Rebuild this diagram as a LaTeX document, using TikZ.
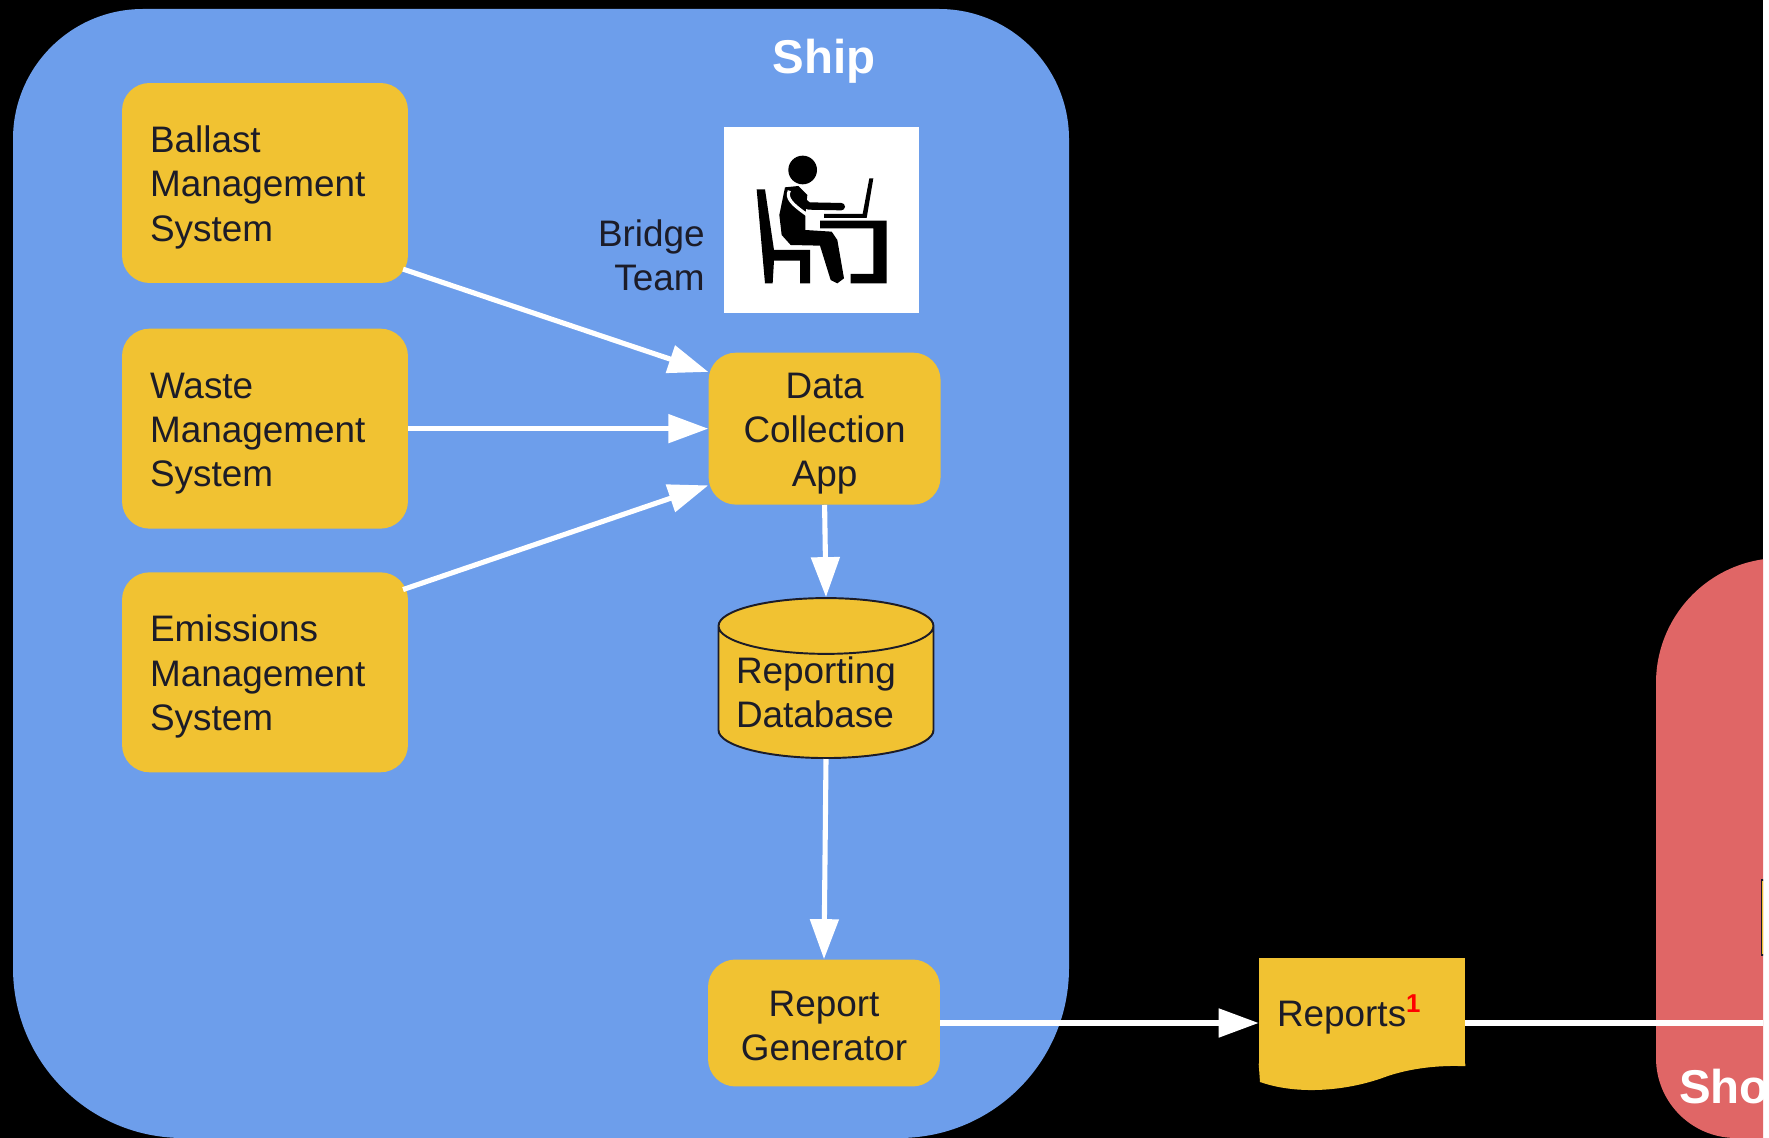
\documentclass[tikz,border=0pt]{standalone}
\usepackage{fontspec}
\setmainfont{Liberation Sans}
\usepackage{tikz}
\usetikzlibrary{shapes.geometric, positioning, arrows.meta}
\definecolor{shipblue}{HTML}{6D9EEB}
\definecolor{shorered}{HTML}{E06666}
\definecolor{boxyellow}{HTML}{F1C232}
\definecolor{inkdark}{HTML}{1C1C28}

\begin{document}
\begin{tikzpicture}[
  x=0.02cm, y=-0.02cm,
  node distance=0.9cm and 6cm,
  font=\fontsize{21}{25.2}\selectfont,
  mydrop/.style={execute at begin node={\rule{0pt}{#1}}},
  mynode/.style={fill=boxyellow,text=inkdark,rounded corners=0.55cm,align=center,inner sep=0pt},
  mysystem/.style={mynode,mydrop=20pt,text width=4.6cm,inner xsep=0.56cm,minimum height=4cm,align=left},
  myapp/.style={mynode,text width=4.64cm},
  myarrow/.style={draw=white,line width=2.9pt,-{Triangle[length=0.8cm,width=0.56cm]}},
  myhead/.style={text=white,font=\fontsize{27}{32}\selectfont\bfseries}
]

\fill[white] (0,0) rectangle (1769,1138);
\useasboundingbox (0,0) rectangle (1769,1138);
\clip (0,0) rectangle (1763,1138);
\fill[black] (0,0) rectangle (1763,1138);

\fill[shipblue] (13,600) [rounded corners=2.6cm] -- (13,9) -- (1069,9) [rounded corners=3.4cm] -- (1069,1138) -- (13,1138) -- cycle;
\fill[shorered] (1900,558) [rounded corners=2.5cm] -- (1656,558) [rounded corners=1.6cm] -- (1656,1138) -- (1900,1138) -- cycle;
\draw[inkdark,fill=boxyellow,line width=0.8pt] (1761.5,880) rectangle (1790,955);

\node[myhead] (shiplabel) at (824,61) {Ship};
\node[myhead,anchor=west] (shorelabel) at (1673,1087) {Sho};

\node[mysystem] (ballast) at (265,183) {Ballast\\Management\\System};
\node[mysystem,below=of ballast] (waste) {Waste\\Management\\System};
\node[mysystem,below=0.86cm of waste] (emissions) {Emissions\\Management\\System};

\node[myapp,mydrop=20pt,minimum height=3.04cm,right=of waste] (app) {Data\\Collection\\App};
\node[myapp,mydrop=18pt,minimum height=2.54cm] (gen) at (824,1023) {Report\\Generator};

\node[draw=inkdark,line width=1.1pt,fill=boxyellow,text=inkdark,cylinder,shape border rotate=90,
  aspect=0.31,minimum width=4.3cm,minimum height=3.2cm,text width=3.6cm,align=left,inner sep=0pt] (db) at (826,692.5)
  {Reporting\\Database};

\node[mydrop=21pt,fill=boxyellow,text=inkdark,minimum width=4.12cm,minimum height=2.14cm,inner sep=0pt,
  text width=3.4cm,align=left] (reports) at (1362,1011.5)
  {Reports\textsuperscript{\textcolor{red}{\textbf{1}}}};
\fill[boxyellow] ([yshift=1pt]reports.south west) -- (1260,1082) .. controls (1300,1096) and (1350,1090) .. (1385,1077)
  .. controls (1410,1068) and (1440,1065) .. ([yshift=-0.5pt]reports.south east) -- ([yshift=1pt]reports.south east) -- cycle;

\node[fill=white,minimum width=3.9cm,minimum height=3.72cm,inner sep=0pt] (team) at (821.5,220) {};
\node[anchor=east,align=right,text=inkdark,inner sep=0pt] (teamlabel) at (705,255) {Bridge\\Team};

\begin{scope}[shift={(700,100)},x=0.00667cm,y=-0.00667cm]
\fill[black] (308,210) circle (43);
\fill[black] (170,268) -- (195,268) -- (222,450) -- (330,450) -- (330,550) -- (300,550) -- (300,482)
  -- (222,482) -- (218,550) -- (195,550) -- cycle;
\fill[black] (255,262) -- (295,258) -- (322,285) -- (316,345) -- (316,390) -- (395,395) -- (412,420)
  -- (432,535) -- (412,550) -- (392,540) -- (360,437) -- (272,435) -- (245,405) -- (238,345) -- cycle;
\draw[white,line width=1.8pt] (268,272) .. controls (258,295) and (275,312) .. (322,345);
\draw[black,line width=4.2pt,line cap=round,line join=round] (282,282) -- (325,318) -- (424,320);
\fill[black] (360,362) -- (560,362) -- (560,550) -- (452,550) -- (452,522) -- (520,522) -- (520,385) -- (360,385) -- cycle;
\fill[black] (508,235) -- (520,235) -- (500,354) -- (372,354) -- (372,342) -- (488,342) -- cycle;
\end{scope}

\coordinate (shoreend) at (1763,1023);

\path ([xshift=-3pt]ballast.-31) edge[myarrow] (app.154)
(waste) edge[myarrow] (app)
([xshift=-3pt]emissions.30) edge[myarrow] (app.206)
(app.south) edge[myarrow] (db.north)
(db.south) edge[myarrow] (gen.north)
(gen.east) edge[myarrow] (gen.east -| reports.west);

\draw[white,line width=2.9pt] (gen.east -| reports.east) -- (shoreend);

\end{tikzpicture}
\end{document}
